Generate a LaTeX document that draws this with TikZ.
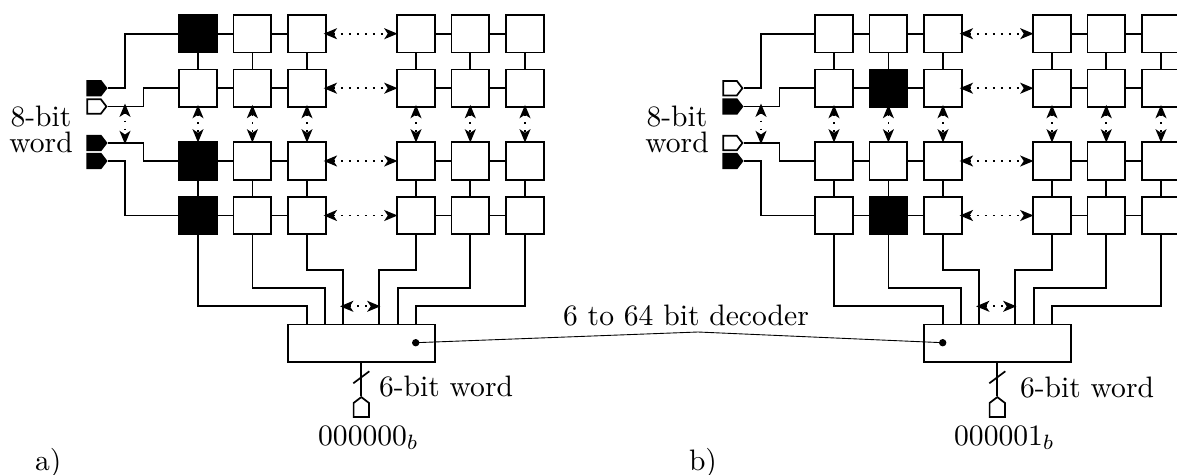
\documentclass[tikz,border=0pt]{standalone}
\usetikzlibrary{arrows.meta,shapes.symbols}
\newcommand\wordpanel[2]{%
\begin{scope}[#1,name prefix=#2-]
  % memory cells
  \foreach \r/\y in {1/33.7,2/88.2,3/161,4/215.5}
    \foreach \c/\x in {1/198,2/252.4,3/307,4/416,5/470.3,6/525}
      \node[cell,cell \r\c/.try] (c\r\c) at (\x,\y) {};
  % word-line inputs
  \node[inp,in 1/.try] (i1) at (107.5,88.2) {};
  \node[inp,in 2/.try] (i2) at (107.5,106.5) {};
  \node[inp,in 3/.try] (i3) at (107.5,143) {};
  \node[inp,in 4/.try] (i4) at (107.5,161) {};
  % decoder
  \node[decoder] (dec) at (361.3,343) {};
  \node[inpup] (i5) at (361.3,396) {};
  \coordinate (slashA) at (353.3,383.3);
  \coordinate (slashB) at (369.3,371.3);
  \coordinate (j1) at (125,33.7);  \coordinate (j1b) at (125,88.2);
  \coordinate (j2) at (143.5,106.5); \coordinate (j2b) at (143.5,88.2);
  \coordinate (j3) at (143.5,143);  \coordinate (j3b) at (143.5,161);
  \coordinate (j4) at (125,215.5);  \coordinate (j4b) at (125,161);
  \coordinate (a1) at (125,106.5);  \coordinate (a2) at (125,143);
  % grid links
  \foreach \r in {1,2,3,4}{
    \draw[wire] (c\r1) -- (c\r2); \draw[wire] (c\r2) -- (c\r3);
    \draw[wire] (c\r4) -- (c\r5); \draw[wire] (c\r5) -- (c\r6);
    \draw[gap] (c\r3.east) -- (c\r4.west);
  }
  \foreach \c in {1,2,3,4,5,6}{
    \draw[wire] (c1\c) -- (c2\c); \draw[wire] (c3\c) -- (c4\c);
  }
  \foreach \c in {1,2,3,4,5,6}{
    \draw[gap] (c2\c.south) -- (c3\c.north);
  }
  % input wiring
  \draw[wire] (i1.east) -- (j1b) -- (j1) -- (c11.west);
  \draw[wire] (i2.east) -- (j2) -- (j2b) -- (c21.west);
  \draw[wire] (i3.east) -- (j3) -- (j3b) -- (c31.west);
  \draw[wire] (i4.east) -- (j4b) -- (j4) -- (c41.west);
  \draw[gap] (a1) -- (a2);
  % decoder outputs
  \foreach \c/\px/\jy in {1/307/306.3,2/325/288,3/343/270,4/379.3/270,5/397.7/288,6/416/306.3}{
    \coordinate (p\c) at (\px,324.7);
    \coordinate (q\c) at (\px,\jy);
    \draw[wire] (c4\c.south) |- (q\c) -- (p\c);
  }
  \draw[gap] (q3|-q1) -- (q4|-q1);
  % address input
  \draw[wire] (dec.south) -- (i5.north);
  \draw[wire] (slashA) -- (slashB);
\end{scope}}
\tikzset{
  x=0.338pt,y=-0.338pt,
  wire/.style={line width=0.58pt},
  gap/.style={line width=0.58pt,dash pattern=on 0.6pt off 2.1pt,
    {Stealth[length=4.5pt,width=3.7pt,inset=1.2pt]}-{Stealth[length=4.5pt,width=3.7pt,inset=1.2pt]},
    shorten <=-1pt,shorten >=-0.4pt},
  cell/.style={draw=black,fill=white,line width=0.58pt,minimum size=12.7pt,inner sep=0pt},
  blk/.style={fill=black},
  inp/.style={signal,signal to=east,anchor=east,draw=black,fill=white,line width=0.58pt,
    minimum width=6.5pt,minimum height=4.9pt,inner sep=0pt,signal pointer angle=105},
  blkin/.style={fill=black},
  inpup/.style={signal,signal to=north,anchor=north,draw=black,fill=white,line width=0.58pt,
    minimum width=5.2pt,minimum height=4.7pt,inner sep=0pt,signal pointer angle=105},
  decoder/.style={draw=black,fill=white,line width=0.58pt,minimum width=49.6pt,minimum height=12.6pt,inner sep=0pt},
  dotn/.style={circle,fill=black,minimum size=2.5pt,inner sep=0pt},
  txt/.style={inner sep=0pt,outer sep=0pt},
  twoline/.style={inner sep=0pt,align=center,font=\fontsize{10}{8.8}\selectfont},
}
\begin{document}
\begin{tikzpicture}
\useasboundingbox (0,0) rectangle (1177,475);
\clip (0,0) rectangle (1177,475);
\wordpanel{shift={(0,0)},cell 11/.style=blk,cell 31/.style=blk,cell 41/.style=blk,
  in 1/.style=blkin,in 3/.style=blkin,in 4/.style=blkin}{L}
\wordpanel{shift={(636,0)},cell 22/.style=blk,cell 42/.style=blk,
  in 2/.style=blkin,in 4/.style=blkin}{R}
\node[twoline] (wl) at (41,129) {8-bit\\word};
\node[twoline] (wr) at (677,129) {8-bit\\word};
\node[txt,anchor=base west] (al) at (379,396.7) {6-bit word};
\node[txt,anchor=base west] (ar) at (1020,397.7) {6-bit word};
\node[txt,anchor=base] (bl) at (368.5,445) {000000$_b$};
\node[txt,anchor=base] (br) at (1004.5,445) {000001$_b$};
\node[txt,anchor=base west] (pa) at (35,470) {a)};
\node[txt,anchor=base west] (pb) at (689,470) {b)};
\node[txt,anchor=base] (dt) at (686,325) {6 to 64 bit decoder};
\node[dotn] (dl) at (415.7,342.7) {};
\node[dotn] (dr) at (942.7,342.7) {};
\coordinate (apex) at (698,332);
\draw[line width=0.3pt] (dl.center) -- (apex) -- (dr.center);
\end{tikzpicture}
\end{document}
